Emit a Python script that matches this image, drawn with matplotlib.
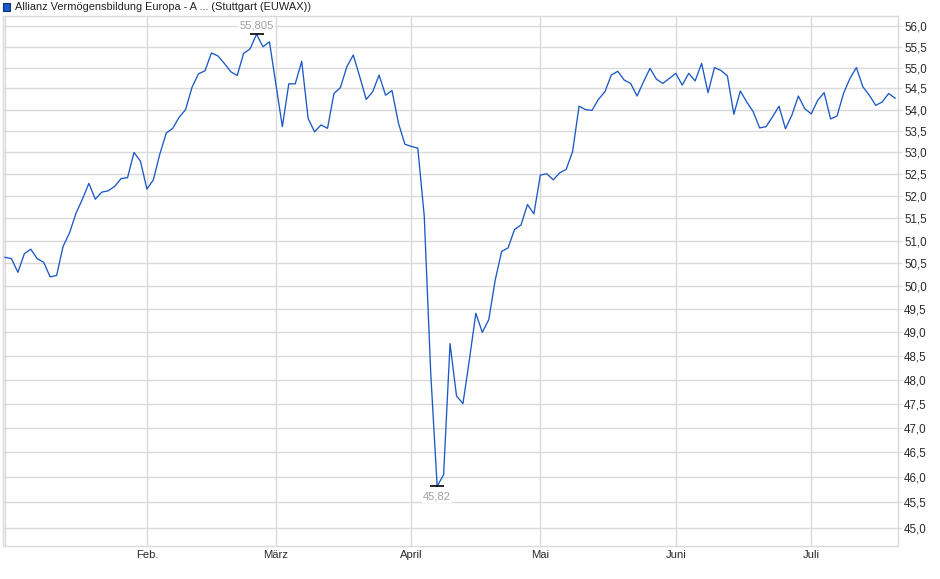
import matplotlib
matplotlib.use("Agg")
import matplotlib.pyplot as plt
from matplotlib.patches import Rectangle
from matplotlib.ticker import FixedLocator, FixedFormatter, NullLocator

plt.rcParams['font.family'] = ['Liberation Sans', 'DejaVu Sans']

title = "Allianz Vermögensbildung Europa - A ... (Stuttgart (EUWAX))"

# daily closes, one per trading day (Jan 2 .. mid July)
prices = [
    50.63, 50.60, 50.30, 50.71, 50.81, 50.60, 50.52, 50.20, 50.23, 50.87,
    51.17, 51.61, 51.93, 52.29, 51.93, 52.09, 52.12, 52.22, 52.40, 52.42,
    53.00, 52.80, 52.16, 52.37, 52.96, 53.45, 53.56, 53.82, 54.00, 54.53,
    54.85, 54.92, 55.35, 55.28, 55.10, 54.90, 54.81, 55.34, 55.45, 55.805,
    55.50, 55.62, 54.60, 53.60, 54.61, 54.61, 55.15, 53.79, 53.48, 53.64,
    53.56, 54.38, 54.52, 55.02, 55.30, 54.78, 54.24, 54.42, 54.82, 54.34,
    54.45, 53.68, 53.19, 53.14, 53.10, 51.55, 48.15, 45.82, 46.05, 48.76,
    47.66, 47.50, 48.42, 49.41, 49.00, 49.27, 50.13, 50.76, 50.84, 51.25,
    51.35, 51.81, 51.60, 52.48, 52.51, 52.37, 52.53, 52.61, 53.02, 54.08,
    54.00, 53.98, 54.24, 54.42, 54.82, 54.91, 54.70, 54.62, 54.32, 54.66,
    54.98, 54.72, 54.62, 54.74, 54.86, 54.58, 54.86, 54.68, 55.10, 54.40,
    55.00, 54.93, 54.80, 53.89, 54.44, 54.18, 53.95, 53.57, 53.60, 53.83,
    54.08, 53.55, 53.87, 54.32, 54.02, 53.90, 54.22, 54.40, 53.78, 53.85,
    54.38, 54.74, 55.00, 54.54, 54.34, 54.10, 54.18, 54.38, 54.27,
]
days = list(range(len(prices)))

# first trading day of each month (index into days)
month_pos = [22, 42, 63, 83, 104, 125]
month_labels = ["Feb.", "März", "April", "Mai", "Juni", "Juli"]

y_ticks = [45.0 + 0.5 * k for k in range(23)]
y_labels = [f"{v:.1f}".replace(".", ",") for v in y_ticks]

line_col = "#1c59c6"
grid_col = "#dadada"
txt_col = "#2a2a2a"

fig = plt.figure(figsize=(9.4, 5.79), dpi=100)
ax = fig.add_axes([3 / 940, 1 - 545.5 / 579, 895 / 940, 529.5 / 579])

ax.plot(days, prices, color=line_col, lw=0.95, zorder=3)

ax.set_yscale("log")
ax.set_ylim(44.65, 56.25)
ax.set_xlim(-0.31, 138.45)

ax.yaxis.set_major_locator(FixedLocator(y_ticks))
ax.yaxis.set_major_formatter(FixedFormatter(y_labels))
ax.yaxis.set_minor_locator(NullLocator())
ax.yaxis.tick_right()
ax.set_xticks([0] + month_pos)
ax.set_xticklabels([""] + month_labels)
ax.xaxis.set_minor_locator(NullLocator())

ax.grid(True, color=grid_col, lw=1.0, zorder=0)
ax.tick_params(axis="y", length=3, color=grid_col, pad=1.5, labelsize=8.3, labelcolor=txt_col)
ax.tick_params(axis="x", length=0, pad=3, labelsize=8.1, labelcolor=txt_col)
for s in ax.spines.values():
    s.set_color(grid_col)
    s.set_linewidth(1.0)

# high / low markers
i_hi = prices.index(max(prices))
i_lo = prices.index(min(prices))
ax.plot([i_hi], [prices[i_hi]], marker="_", ms=10, mew=1.2, color="black", zorder=4)
ax.plot([i_lo], [prices[i_lo]], marker="_", ms=10, mew=1.2, color="black", zorder=4)
ax.annotate("55,805", (i_hi, prices[i_hi]), xytext=(0, 6.5), textcoords="offset points",
            ha="center", va="center", fontsize=8.1, color="#a0a0a0", zorder=5,
            bbox=dict(boxstyle="square,pad=0.1", fc="white", ec="none"))
ax.annotate("45,82", (i_lo, prices[i_lo]), xytext=(0, -7.5), textcoords="offset points",
            ha="center", va="center", fontsize=8.1, color="#a0a0a0", zorder=5,
            bbox=dict(boxstyle="square,pad=0.1", fc="white", ec="none"))

# legend square + title
fig.patches.append(Rectangle((3 / 940, 1 - 11 / 579), 7 / 940, 8 / 579,
                             transform=fig.transFigure, fc="#1a57c8", ec="#10306a", lw=0.8))
fig.text(15 / 940, 1 - 7 / 579, title, fontsize=7.9, color="#222222", va="center", ha="left")

fig.savefig("out.png", dpi=100)
